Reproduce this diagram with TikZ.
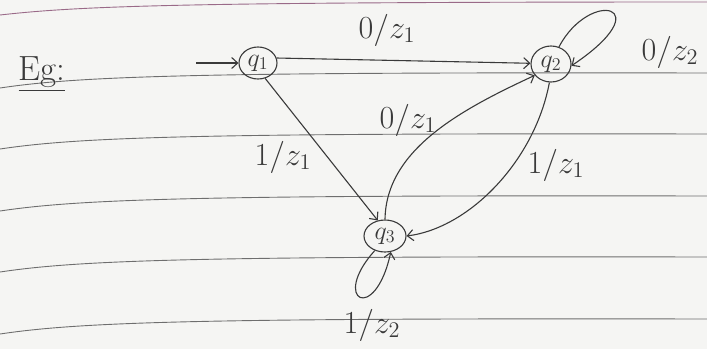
\documentclass[tikz,border=0pt]{standalone}
\usetikzlibrary{arrows.meta,shapes.geometric}
\definecolor{paper}{HTML}{F5F5F3}
\definecolor{rule}{HTML}{6E6E6E}
\definecolor{topline}{HTML}{9A6A88}
\definecolor{inkc}{HTML}{3A3A3A}
\newcommand{\lb}[1]{\scalebox{1.55}{$#1$}}
\newcommand{\sq}[1]{\scalebox{1.5}{$#1$}}
\begin{document}
\begin{tikzpicture}[x=1pt,y=-1pt,
  ruling/.style={draw=rule, line width=0.9pt},
  ink/.style={draw=inkc, line width=1.1pt},
  arr/.style={ink, -{Straight Barb[length=6pt,width=11pt]}},
  st/.style={ellipse, draw=inkc, line width=1.1pt, inner sep=0pt, text=inkc,
             minimum width=38pt, minimum height=32pt, font=\fontsize{17}{20}\selectfont},
  lbl/.style={text=inkc, inner sep=1pt, font=\fontsize{20}{24}\selectfont}]
\fill[paper] (0,0) rectangle (707,349);
\useasboundingbox (0,0) rectangle (707,349);
% ruled paper
\draw[draw=topline, line width=0.9pt] (0,15) .. controls (80,6) and (180,2) .. (707,2);
\foreach \y in {73,134,196,257,319}{
  \draw[ruling] (0,\y+15) .. controls (80,\y+3) and (200,\y-1) .. (707,\y);
}
% title
\node[lbl] (eg) at (42,74) {\scalebox{1.75}{\underline{Eg:}}};
% states
\node[st] (q1) at (258,63) {\sq{q_1}};
\node[st, minimum width=40pt, minimum height=36pt] (q2) at (551,64) {\sq{q_2}};
\node[st, minimum width=42pt, minimum height=32pt] (q3) at (385,236) {\sq{q_3}};
% start arrow
\coordinate (s) at (196,63);
\draw[arr] (s) -- (q1);
% transitions
\draw[arr] (q1.15) -- (q2.178);
\node[lbl] (l12) at (387,30) {\lb{0/z_1}};
\draw[arr] (q1.-65) -- (q3.115);
\node[lbl] (l13) at (283,157) {\lb{1/z_1}};
\draw[arr] (q3.90) .. controls (386,150) and (460,110) .. (q2.215);
\node[lbl] (l32) at (408,120) {\lb{0/z_1}};
\draw[arr] (q2.265) .. controls (535,160) and (470,228) .. (q3.east);
\node[lbl] (l23) at (556,165) {\lb{1/z_1}};
\draw[arr] (q2.65) .. controls (590,-12) and (662,5) .. (q2.-5);
\node[lbl] (l22) at (670,52) {\lb{0/z_2}};
\draw[arr] (q3.235) .. controls (330,300) and (375,325) .. (q3.290);
\node[lbl] (l33) at (372,325) {\lb{1/z_2}};
\end{tikzpicture}
\end{document}
